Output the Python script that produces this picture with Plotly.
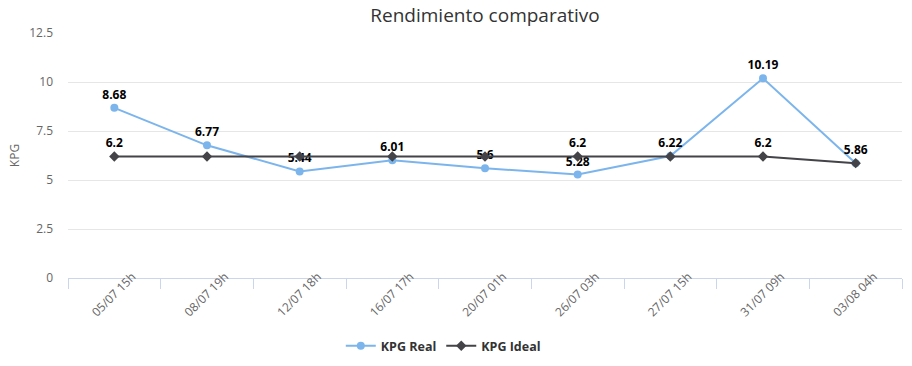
import plotly.graph_objects as go

categories = ["05/07 15h", "08/07 19h", "12/07 18h", "16/07 17h", "20/07 01h",
              "26/07 03h", "27/07 15h", "31/07 09h", "03/08 04h"]
kpg_real = [8.68, 6.77, 5.44, 6.01, 5.6, 5.28, 6.22, 10.19, 5.86]
kpg_ideal = [6.2, 6.2, 6.2, 6.2, 6.2, 6.2, 6.2, 6.2, 5.86]
y_ticks = [0, 2.5, 5, 7.5, 10, 12.5]
# labels of the ideal series that are not hidden by overlap in the reference
ideal_label_idx = [0, 5, 7]

real_text = [f"{v:g}" for v in kpg_real]
ideal_text = [f"{v:g}" if i in ideal_label_idx else "" for i, v in enumerate(kpg_ideal)]

label_font = dict(family="Open Sans, DejaVu Sans, sans-serif", size=12, color="#000000", weight="bold")

fig = go.Figure()
fig.add_trace(go.Scatter(
    x=categories, y=kpg_real, name="KPG Real", mode="lines+markers+text",
    line=dict(color="#7cb5ec", width=2), marker=dict(symbol="circle", size=8, color="#7cb5ec"),
    text=real_text, textposition="top center", textfont=label_font, cliponaxis=False,
))
fig.add_trace(go.Scatter(
    x=categories, y=kpg_ideal, name="KPG Ideal", mode="lines+markers+text",
    line=dict(color="#434348", width=2), marker=dict(symbol="diamond", size=8, color="#434348"),
    text=ideal_text, textposition="top center", textfont=label_font, cliponaxis=False,
))

fig.update_layout(
    width=912, height=366,
    margin=dict(l=68, r=10, t=33, b=88, autoexpand=False),
    paper_bgcolor="white", plot_bgcolor="white",
    title=dict(text="Rendimiento comparativo", x=0.5, xref="paper", xanchor="center",
               y=1 - 15 / 366, yref="container", yanchor="middle",
               font=dict(family="Open Sans, sans-serif", size=19, color="#333333")),
    font=dict(family="Open Sans, DejaVu Sans, sans-serif", size=12, color="#666666"),
    showlegend=True,
    legend=dict(orientation="h", x=0.450, xanchor="center", y=-0.278, yanchor="middle",
                font=dict(family="Open Sans, DejaVu Sans, sans-serif", size=12.5, color="#333333", weight="bold"),
                itemwidth=30, traceorder="normal"),
    xaxis=dict(type="category", range=[-0.5, len(categories) - 0.5], tickson="boundaries",
               ticks="outside", ticklen=10, tickcolor="#ccd6eb", showline=True, linecolor="#ccd6eb",
               linewidth=1, showgrid=False, tickangle=-45, zeroline=False,
               ticklabelshift=18, ticklabelstandoff=-14,
               tickfont=dict(size=12, color="#666666")),
    yaxis=dict(range=[0, 12.5], tickvals=y_ticks, ticktext=[f"{t:g}" for t in y_ticks],
               showgrid=True, gridcolor="#e6e6e6", gridwidth=1, zeroline=False, showline=False,
               ticks="", ticklabelstandoff=14, tickfont=dict(size=12, color="#666666"),
               title=dict(text="KPG", font=dict(size=12, color="#666666"), standoff=7)),
)

fig.write_html("out.html", config={"displayModeBar": False},
               post_script="document.body.style.margin='0';")
